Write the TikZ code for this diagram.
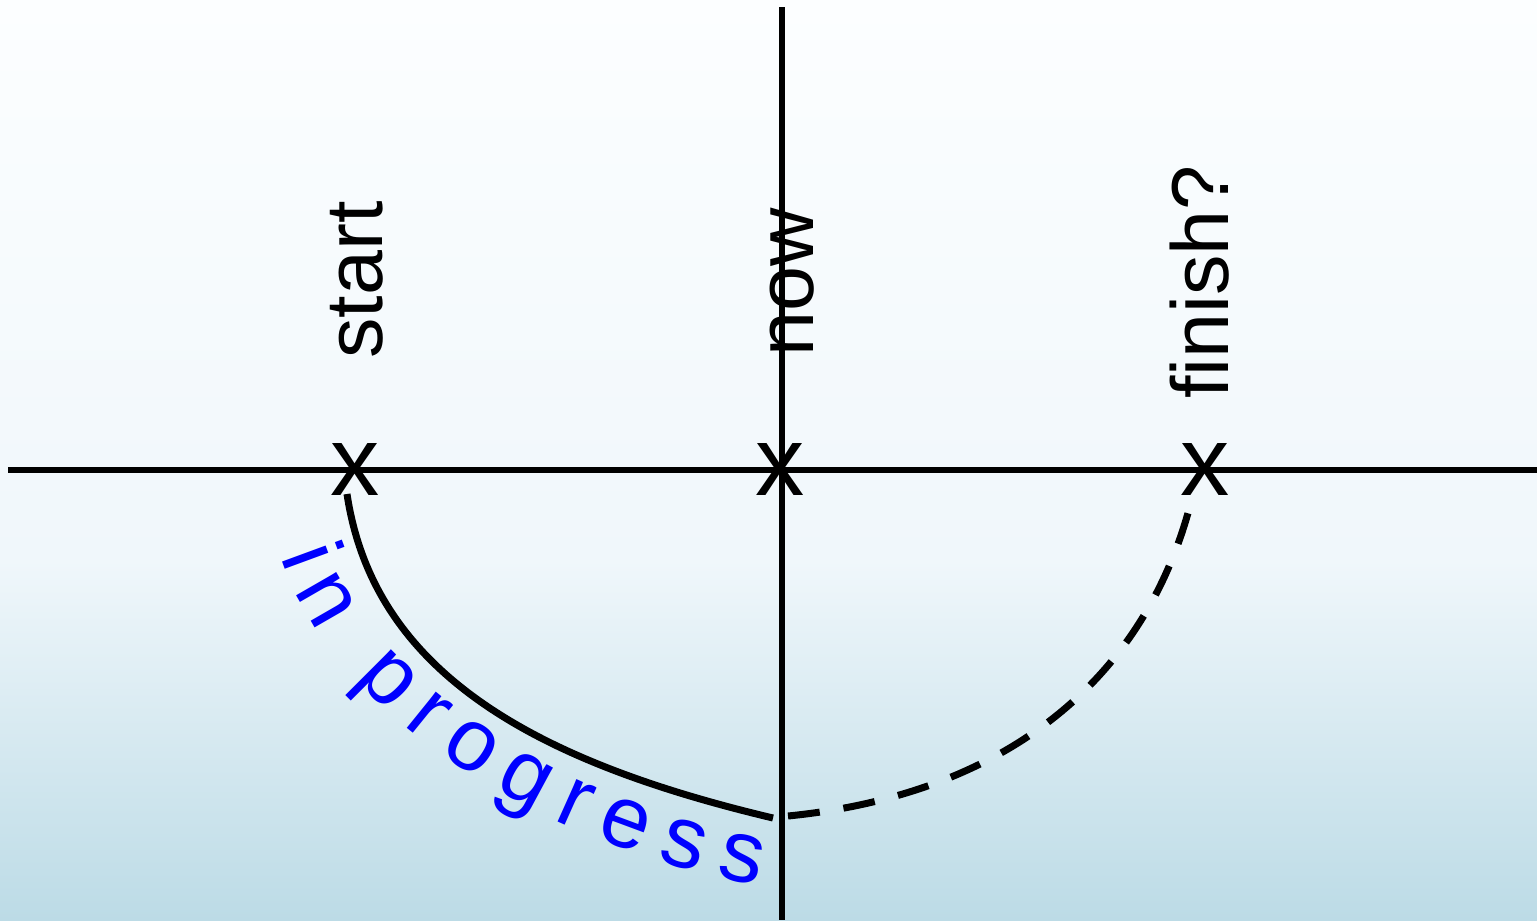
\documentclass[tikz,border=0pt]{standalone}
\usepackage{fontspec}
\setmainfont{Liberation Sans}
\usetikzlibrary{decorations.text}

\definecolor{bgtop}{RGB}{252,254,255}
\definecolor{bgmid}{RGB}{240,247,251}
\definecolor{bgbot}{RGB}{188,219,230}
\definecolor{progblue}{RGB}{0,0,255}
\newcommand\progfont{\fontsize{50}{54}\selectfont}

\begin{document}
\begin{tikzpicture}[x=0.02cm, y=-0.02cm,
    axis/.style={line width=0.12cm},
    arc/.style={line width=0.14cm},
    cross/.style={inner sep=0pt, font=\fontsize{56}{56}\selectfont},
    vlabel/.style={rotate=90, anchor=base, inner sep=0pt,
        font=\fontsize{46}{50}\selectfont}]
    % Background (light gradient, white at the top)
    \useasboundingbox (0,0) rectangle (1537,920);
    \shade[top color=bgtop, bottom color=bgmid] (0,0) rectangle (1537,560);
    \shade[top color=bgmid, bottom color=bgbot] (0,560) rectangle (1537,920);

    % Time line and the vertical "now" axis
    \draw[axis] (8,470) -- (1537,470);
    \draw[axis] (782,7) -- (782,920);

    % Crosses on the time line
    \node[cross] (xstart) at (355,469) {x};
    \node[cross] (xnow) at (780,469) {x};
    \node[cross] (xfinish) at (1205,469) {x};

    % Rotated labels above the crosses
    \node[vlabel] (start) at (382,280) {start};
    \node[vlabel] (now) at (813,282) {now};
    \node[vlabel] (finish) at (1228,282) {finish?};

    % Arc: done part solid, remaining part dashed
    \coordinate (arcbeg) at (347,494);
    \coordinate (arcend) at (773,818);
    \coordinate (dashbeg) at (788,816);
    \coordinate (dashend) at (1192,498);
    \draw[arc] (arcbeg) .. controls (374,674) and (537,762) .. (arcend);
    \draw[arc, dash pattern=on 0.64cm off 0.48cm]
        (dashbeg) .. controls (1008,794) and (1147,678) .. (dashend);

    % Text along the outside of the solid arc
    \path[decorate, decoration={text along path, text align=fit to path,
        text color=progblue, text={|\progfont|in progress}}]
        (281,556) .. controls (326,694) and (500,834) .. (758,886);
\end{tikzpicture}
\end{document}
